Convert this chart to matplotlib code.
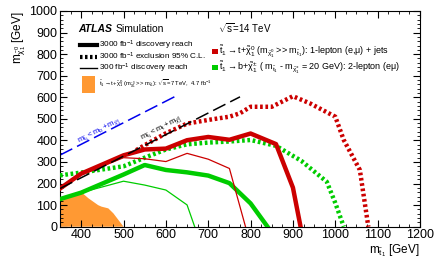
import numpy as np
import matplotlib
matplotlib.use("Agg")
import matplotlib.pyplot as plt
from matplotlib.ticker import MultipleLocator
from matplotlib.patches import Rectangle

plt.rcParams['font.family'] = ['Liberation Sans', 'DejaVu Sans']
plt.rcParams['mathtext.fontset'] = 'custom'
plt.rcParams['mathtext.rm'] = 'Liberation Sans'
plt.rcParams['mathtext.it'] = 'Liberation Sans:italic'
plt.rcParams['mathtext.default'] = 'regular'

RED = '#cc0000'
GREEN = '#00cc00'
ORANGE = '#ff9933'
DOT = (0, (0.6, 0.6))

# 7 TeV excluded region (orange)
excl7_mt = [350, 350, 401, 417, 440, 448, 464, 476, 500]
excl7_mchi = [0, 132, 159, 132, 100, 93, 85, 62, 0]

# 1-lepton (red)
red_disc3000_mt = [350, 400, 500, 550, 600, 650, 700, 750, 800, 860, 900, 918]
red_disc3000_mchi = [177, 246, 331, 358, 362, 401, 416, 403, 432, 383, 181, 0]
red_disc300_mt = [350, 400, 500, 550, 600, 650, 700, 750, 788]
red_disc300_mchi = [177, 240, 320, 315, 302, 340, 313, 270, 0]
red_excl_mt = [530, 550, 600, 650, 700, 750, 775, 800, 850, 900, 940, 1000, 1020, 1058, 1078]
red_excl_mchi = [355, 378, 433, 478, 495, 510, 526, 556, 556, 605, 572, 510, 402, 263, 0]

# 2-lepton (green)
grn_disc3000_mt = [350, 400, 500, 550, 600, 650, 700, 750, 800, 840]
grn_disc3000_mchi = [128, 158, 242, 286, 263, 252, 237, 202, 108, 0]
grn_disc300_mt = [350, 400, 500, 550, 600, 650, 668]
grn_disc300_mchi = [128, 158, 211, 193, 170, 101, 0]
grn_excl_mt = [350, 400, 500, 550, 600, 650, 700, 750, 800, 860, 920, 980, 1000, 1020]
grn_excl_mchi = [238, 251, 280, 320, 358, 382, 390, 395, 402, 375, 305, 208, 110, 0]

# kinematic limits
kin_top_mt = np.array([350, 775])
m_top = 173
kin_b_mt = np.array([350, 622])
m_b_off = 18

fig = plt.figure(figsize=(4.39, 2.65), dpi=100)
ax = fig.add_axes([0.1367, 0.1445, 0.82, 0.814])

ax.fill(excl7_mt, excl7_mchi, color=ORANGE, lw=0, zorder=1)

ax.plot(kin_b_mt, kin_b_mt - m_b_off, color='#0000ee', lw=1.1, dashes=(9, 3.5), zorder=2)
ax.plot(kin_top_mt, kin_top_mt - m_top, color='black', lw=1.1, dashes=(9, 3.5), zorder=5)

ax.plot(red_disc3000_mt, red_disc3000_mchi, color=RED, lw=3.2, zorder=4)
ax.plot(red_disc300_mt, red_disc300_mchi, color=RED, lw=0.9, zorder=4)
ax.plot(red_excl_mt, red_excl_mchi, color=RED, lw=3.2, ls=DOT, zorder=3)

ax.plot(grn_disc3000_mt, grn_disc3000_mchi, color=GREEN, lw=3.2, zorder=3)
ax.plot(grn_disc300_mt, grn_disc300_mchi, color=GREEN, lw=0.9, zorder=3)
ax.plot(grn_excl_mt, grn_excl_mchi, color=GREEN, lw=3.2, ls=DOT, zorder=3)

ax.text(444, 444, r'$m_{\tilde{t}_1} < m_b+m_{\tilde{\chi}^{\pm}_1}$', color='#0000ee', fontsize=5.5,
        rotation=27, ha='center', va='center', rotation_mode='anchor')
ax.text(590, 455, r'$m_{\tilde{t}_1} < m_t+m_{\tilde{\chi}^0_1}$', color='black', fontsize=5.5,
        rotation=27, ha='center', va='center', rotation_mode='anchor')

ax.set_xlim(350, 1200)
ax.set_ylim(0, 1000)
ax.xaxis.set_major_locator(MultipleLocator(100))
ax.xaxis.set_minor_locator(MultipleLocator(25))
ax.yaxis.set_major_locator(MultipleLocator(100))
ax.yaxis.set_minor_locator(MultipleLocator(20))
ax.tick_params(which='both', direction='in', top=True, right=True, labelsize=9, pad=2)
ax.tick_params(which='major', length=5, width=0.8)
ax.tick_params(which='minor', length=2.5, width=0.6)
for s in ax.spines.values():
    s.set_linewidth(0.8)

ax.set_xlabel(r'$m_{\tilde{t}_1}$ [GeV]', fontsize=8.5, loc='right', labelpad=1)
ax.set_ylabel(r'$m_{\tilde{\chi}^0_1}$ [GeV]', fontsize=8.5, loc='top', labelpad=1)

# header texts
ax.text(0.05, 0.915, 'ATLAS', transform=ax.transAxes, fontsize=7.5, fontweight='bold',
        fontstyle='italic', va='center')
ax.text(0.155, 0.915, 'Simulation', transform=ax.transAxes, fontsize=7.5, va='center')
ax.text(0.44, 0.92, r'$\sqrt{s}$=14 TeV', transform=ax.transAxes, fontsize=7, va='center')

# left legend (line styles)
style_rows = [(0.842, dict(lw=3), r'3000 fb$^{-1}$ discovery reach'),
              (0.789, dict(lw=3, ls=DOT), r'3000 fb$^{-1}$ exclusion 95% C.L.'),
              (0.736, dict(lw=1), r'300 fb$^{-1}$ discovery reach')]
for y, kw, label in style_rows:
    ax.plot([0.055, 0.103], [y, y], color='black', transform=ax.transAxes, clip_on=False, **kw)
    ax.text(0.107, y, label, transform=ax.transAxes, fontsize=5.9, va='center')
ax.add_patch(Rectangle((0.061, 0.620), 0.036, 0.079, transform=ax.transAxes,
                       facecolor=ORANGE, edgecolor='none'))
ax.text(0.107, 0.662,
        r'$\tilde{t}_1\rightarrow t$+$\tilde{\chi}^0_1$ ($m_{\tilde{\chi}^0_1}$ >> $m_{\tilde{t}_1}$): $\sqrt{s}$=7 TeV,  4.7 fb$^{-1}$',
        transform=ax.transAxes, fontsize=4.2, va='center')

# right legend (channels)
chan_rows = [(0.812, RED, r'$\tilde{t}_1\rightarrow t$+$\tilde{\chi}^0_1$ ($m_{\tilde{\chi}^0_1}$ >> $m_{\tilde{t}_1}$): 1-lepton (e,$\mu$) + jets'),
             (0.738, GREEN, r'$\tilde{t}_1\rightarrow b$+$\tilde{\chi}^{\pm}_1$ ( $m_{\tilde{t}_1}$ - $m_{\tilde{\chi}^{\pm}_1}$ = 20 GeV): 2-lepton (e$\mu$)')]
for y, col, label in chan_rows:
    ax.add_patch(Rectangle((0.422, y - 0.012), 0.018, 0.024, transform=ax.transAxes,
                           facecolor=col, edgecolor='none'))
    ax.text(0.442, y, label, transform=ax.transAxes, fontsize=6.5, va='center')

fig.savefig('out.png', dpi=100)
